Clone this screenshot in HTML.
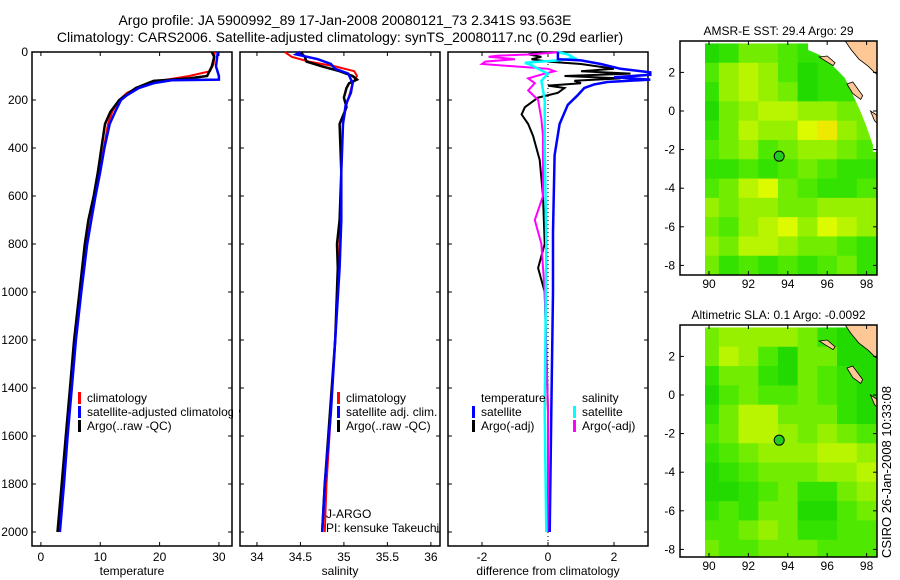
<!DOCTYPE html>
<html><head><meta charset="utf-8"><style>
body{margin:0;background:#fff;}
svg{display:block;font-family:"Liberation Sans",sans-serif;}
</style></head><body>
<svg id="c" width="900" height="580" xmlns="http://www.w3.org/2000/svg">
<text x="345" y="25" font-size="14" text-anchor="middle">Argo profile: JA 5900992_89 17-Jan-2008 20080121_73 2.341S 93.563E</text>
<text x="340" y="42" font-size="14" text-anchor="middle">Climatology: CARS2006. Satellite-adjusted climatology: synTS_20080117.nc (0.29d earlier)</text>
<text x="891" y="472" font-size="13" text-anchor="middle" transform="rotate(-90 891 472)">CSIRO 26-Jan-2008 10:33:08</text>
</svg>
<script>
// ---------- data ----------
const depthTicks=[0,200,400,600,800,1000,1200,1400,1600,1800,2000];
const tempTicks=[0,10,20,30];
const salTicks=[34,34.5,35,35.5,36];
const diffTicks=[-2,0,2];
const tempClimDepth=[0,50,80,100,120,140,170,200,250,300,400,500,600,700,800,1000,1200,1400,1600,1800,2000];
const tempClimVal=[29.3,29.1,28.5,25,20,17,14.5,13.2,12,11.3,10.6,9.9,9.1,8.4,7.7,6.7,5.8,5.1,4.4,3.8,3.1];
const tempSatDepth=[0,60,100,115,118,130,150,180,200,250,300,400,500,600,700,800,1000,1200,1400,1600,1800,2000];
const tempSatVal=[29.8,29.5,30,30,22,19,16.5,14.5,13.5,12.5,11.6,10.7,10,9.2,8.5,7.8,6.8,5.9,5.2,4.5,3.9,3.2];
const tempArgoDepth=[0,20,60,100,110,120,150,180,200,250,300,400,500,600,700,800,1000,1200,1400,1600,1800,2000];
const tempArgoVal=[28.8,29.2,28.8,28,25,19,16,14.3,13.2,11.7,10.8,10.2,9.6,8.9,8.0,7.4,6.5,5.6,4.9,4.2,3.5,2.8];
const salClimDepth=[0,20,40,60,80,100,130,170,220,300,500,700,900,1200,1500,1800,2000];
const salClimVal=[34.32,34.4,34.6,34.9,35.12,35.15,35.1,35.07,35.03,34.99,34.97,34.96,34.94,34.9,34.85,34.8,34.78];
const salSatDepth=[0,10,30,50,70,90,130,170,220,300,500,700,900,1200,1500,1800,2000];
const salSatVal=[34.5,34.45,34.7,34.85,34.9,35.05,35.1,35.08,35.02,34.99,34.97,34.97,34.95,34.9,34.85,34.78,34.75];
const salArgoDepth=[0,20,40,60,80,100,115,130,150,190,230,300,500,700,800,900,1200,1500,1800,2000];
const salArgoVal=[34.5,34.55,34.57,34.75,34.95,35.1,35.15,35.06,35.03,35.0,35.03,34.95,34.97,34.95,34.92,34.93,34.9,34.84,34.78,34.75];
const dTempSatDepth=[0,20,30,35,50,70,85,95,105,115,125,135,150,180,220,300,430,750,1000,1500,2000];
const dTempSatVal=[0.3,0.3,0.3,1.0,1.6,2.2,3.1,3.1,2,3.1,1.8,1.4,1.1,0.9,0.6,0.35,0.2,0.15,0.15,0.1,0.05];
const dTempArgoDepth=[0,10,20,30,40,50,60,70,80,90,100,110,120,130,140,150,170,190,230,260,300,350,450,600,800,900,1000,1500,2000];
const dTempArgoVal=[-0.2,-0.6,-0.2,-0.5,0,1.0,1.5,2.0,1.0,2.5,0.5,2.2,0.8,1.0,0,0.5,0.3,-0.3,-0.7,-0.8,-0.6,-0.45,-0.25,-0.15,-0.1,-0.3,-0.1,0,0];
const dSalSatDepth=[0,10,25,35,45,55,70,90,120,200,400,800,1500,2000];
const dSalSatVal=[0.3,0.6,0.8,0.3,-0.7,-0.5,-0.3,0,-0.2,-0.1,-0.1,-0.05,-0.1,-0.05];
const dSalArgoDepth=[0,10,15,20,30,40,50,60,70,80,90,110,130,160,200,280,350,600,700,800,1000,1500,2000];
const dSalArgoVal=[0.4,-0.5,-1.5,-1.8,-1.0,-1.9,-2.0,-1.0,0.0,0.2,-0.1,-0.6,-0.4,-0.6,-0.3,-0.2,-0.15,-0.15,-0.4,-0.2,-0.1,0,0];
const mapLons=[90,91,92,93,94,95,96,97,98];
const mapLats=[3,2,1,0,-1,-2,-3,-4,-5,-6,-7,-8];
const lonTicks=[90,92,94,96,98];
const latTicks=[2,0,-2,-4,-6,-8];
const sstGrid=[
[0.2,0.3,0.5,0.5,0.4,0.3,0.3,0.3,0.3],
[0.4,0.6,0.7,0.6,0.4,0.2,0.3,0.3,0.3],
[0.3,0.6,0.7,0.6,0.5,0.2,0.3,0.3,0.3],
[0.2,0.5,0.6,0.7,0.7,0.6,0.6,0.5,0.5],
[0.3,0.5,0.7,0.6,0.6,0.8,0.9,0.6,0.5],
[0.4,0.5,0.6,0.4,0.5,0.6,0.6,0.5,0.4],
[0.3,0.3,0.4,0.3,0.4,0.5,0.4,0.3,0.3],
[0.4,0.5,0.7,0.8,0.5,0.4,0.3,0.3,0.4],
[0.6,0.5,0.6,0.6,0.5,0.5,0.6,0.6,0.6],
[0.5,0.4,0.6,0.7,0.8,0.6,0.8,0.7,0.6],
[0.6,0.5,0.7,0.7,0.6,0.5,0.5,0.4,0.3],
[0.5,0.3,0.4,0.3,0.4,0.3,0.4,0.5,0.3]];
const slaGrid=[
[0.5,0.6,0.6,0.6,0.6,0.5,0.3,0.2,0.2],
[0.5,0.7,0.6,0.4,0.2,0.5,0.5,0.2,0.2],
[0.3,0.5,0.5,0.3,0.2,0.5,0.4,0.3,0.2],
[0.2,0.4,0.5,0.4,0.4,0.5,0.4,0.3,0.2],
[0.3,0.5,0.7,0.7,0.5,0.5,0.5,0.3,0.2],
[0.4,0.5,0.7,0.7,0.6,0.5,0.6,0.5,0.4],
[0.3,0.4,0.5,0.6,0.6,0.6,0.7,0.7,0.6],
[0.2,0.3,0.4,0.5,0.5,0.5,0.6,0.6,0.7],
[0.2,0.2,0.3,0.4,0.5,0.3,0.3,0.5,0.6],
[0.3,0.4,0.3,0.5,0.5,0.2,0.2,0.4,0.5],
[0.4,0.4,0.5,0.6,0.5,0.3,0.3,0.4,0.4],
[0.5,0.4,0.4,0.5,0.5,0.5,0.4,0.4,0.4]];
const argoLon=93.563, argoLat=-2.341;

// ---------- helpers ----------
const svg=document.getElementById('c');
const NS='http://www.w3.org/2000/svg';
function mk(tag,attrs,parent){const e=document.createElementNS(NS,tag);for(const k in attrs)e.setAttribute(k,attrs[k]);(parent||svg).appendChild(e);return e;}
const Y0=52, PY=0.24, BOT=546;
const yD=d=>Y0+d*PY;

function panel(name,x0,x1,vmin,vmax,ticks,label,showY){
  const sx=v=>x0+(v-vmin)/(vmax-vmin)*(x1-x0);
  const g=mk('g',{});
  
  
  const fr=mk('rect',{x:x0,y:Y0,width:x1-x0,height:BOT-Y0,fill:'none',stroke:'#000','stroke-width':1.5},g);
  
  
  depthTicks.forEach(d=>{
    mk('line',{x1:x0,x2:x0+4,y1:yD(d),y2:yD(d),stroke:'#000'},g);
    mk('line',{x1:x1,x2:x1-4,y1:yD(d),y2:yD(d),stroke:'#000'},g);
    if(showY){const t=mk('text',{x:x0-4,y:yD(d)+4,'font-size':12,'text-anchor':'end'},g);t.textContent=d;
      
      }
  });
  ticks.forEach(v=>{
    mk('line',{x1:sx(v),x2:sx(v),y1:BOT,y2:BOT-4,stroke:'#000'},g);
    mk('line',{x1:sx(v),x2:sx(v),y1:Y0,y2:Y0+4,stroke:'#000'},g);
    const t=mk('text',{x:sx(v),y:BOT+15,'font-size':12,'text-anchor':'middle'},g);t.textContent=v;
    
    
  });
  const l=mk('text',{x:(x0+x1)/2,y:575,'font-size':12,'text-anchor':'middle'},g);l.textContent=label;
  
  
  return {sx,g,x0,x1};
}
function line(p,depths,vals,color,w,nm){
  const pts=depths.map((d,i)=>p.sx(vals[i]).toFixed(1)+','+yD(d).toFixed(1)).join(' ');
  const e=mk('polyline',{points:pts,fill:'none',stroke:color,'stroke-width':w,'stroke-linejoin':'miter'},p.g);
  
  
}
function legendRow(g,x,y,color,text,nm){
  if(color)mk('rect',{x:x,y:y-10,width:3,height:12,fill:color},g);
  const t=mk('text',{x:x+(color?9:0),y:y,'font-size':12},g);t.textContent=text;
  
  
}

// ---------- panel 1 ----------
const p1=panel('temperature',32,232,-1.5,32.2,tempTicks,'temperature',true);
line(p1,tempClimDepth,tempClimVal,'#f00',2,'temp-climatology-line');
line(p1,tempArgoDepth,tempArgoVal,'#000',2.5,'temp-argo-line');
line(p1,tempSatDepth,tempSatVal,'#00f',2.5,'temp-satellite-line');
legendRow(p1.g,78,402,'#f00','climatology','legend-climatology');
legendRow(p1.g,78,416,'#00f','satellite-adjusted climatology','legend-satellite');
legendRow(p1.g,78,430,'#000','Argo(..raw -QC)','legend-argo');
mk('rect',{x:233,y:390,width:6,height:50,fill:'#fff'});

// ---------- panel 2 ----------
const p2=panel('salinity',240,440,33.805,36.105,salTicks,'salinity',false);
line(p2,salClimDepth,salClimVal,'#f00',2,'sal-climatology-line');
line(p2,salArgoDepth,salArgoVal,'#000',2.5,'sal-argo-line');
line(p2,salSatDepth,salSatVal,'#00f',2.5,'sal-satellite-line');
legendRow(p2.g,337,402,'#f00','climatology','legend-sal-climatology');
legendRow(p2.g,337,416,'#00f','satellite adj. clim.','legend-sal-satellite');
legendRow(p2.g,337,430,'#000','Argo(..raw -QC)','legend-sal-argo');
legendRow(p2.g,326,518,null,'J-ARGO','pi-project-label');
legendRow(p2.g,326,532,null,'PI: kensuke Takeuchi','pi-name-label');

// ---------- panel 3 ----------
const p3=panel('difference',448,648,-3.03,3.03,diffTicks,'difference from climatology',false);
mk('line',{x1:p3.sx(0),x2:p3.sx(0),y1:Y0,y2:BOT,stroke:'#000','stroke-dasharray':'1,3'},p3.g);
line(p3,dTempArgoDepth,dTempArgoVal,'#000',2,'diff-temp-argo-line');
line(p3,dSalArgoDepth,dSalArgoVal,'#f0f',2,'diff-sal-argo-line');
line(p3,dSalSatDepth,dSalSatVal,'#0ff',2.5,'diff-sal-satellite-line');
line(p3,dTempSatDepth,dTempSatVal,'#00f',2.5,'diff-temp-satellite-line');
legendRow(p3.g,481,402,null,'temperature','legend-temperature-header');
legendRow(p3.g,472,416,'#00f','satellite','legend-diff-temp-satellite');
legendRow(p3.g,472,430,'#000','Argo(-adj)','legend-diff-temp-argo');
legendRow(p3.g,582,402,null,'salinity','legend-salinity-header');
legendRow(p3.g,573,416,'#0ff','satellite','legend-diff-sal-satellite');
legendRow(p3.g,573,430,'#f0f','Argo(-adj)','legend-diff-sal-argo');

// ---------- maps ----------
function col(v){
  const stops=[[0,[0,200,0]],[0.35,[60,230,0]],[0.6,[150,240,0]],[0.8,[220,250,0]],[1,[255,215,0]]];
  for(let i=1;i<stops.length;i++){if(v<=stops[i][0]){const a=stops[i-1],b=stops[i];const t=(v-a[0])/(b[0]-a[0]);
    return 'rgb('+a[1].map((c,j)=>Math.round(c+(b[1][j]-c)*t)).join(',')+')';}}
  return 'rgb(255,215,0)';
}
function map(name,top,bottom,lat0y,grid,title,mask){
  const x0=680,x1=877;
  const lx=l=>709+19.7*(l-90), ly=l=>lat0y-19.3*l;
  const g=mk('g',{});
  
  
  const cid='clip'+name;
  const cp=mk('clipPath',{id:cid},g);
  mk('rect',{x:lx(89.8),y:top,width:x1-lx(89.8),height:bottom-top},cp);
  const cg=mk('g',{'clip-path':'url(#'+cid+')'},g);
  grid.forEach((row,r)=>row.forEach((v,c)=>{
    const e=mk('rect',{x:lx(mapLons[c]-0.5),y:ly(mapLats[r]+0.5),width:19.7+0.5,height:19.3+0.5,fill:col(v)},cg);
    
    
  }));
  const P=pts=>pts.map(p=>lx(p[0]).toFixed(1)+','+ly(p[1]).toFixed(1)).join(' ');
  if(mask){const m=mk('polygon',{points:P([[95.03,3.8],[95.03,3.16],[95.63,2.9],[96.4,2.23],[96.9,1.71],[97.26,0.93],[97.66,0.05],[97.97,-0.73],[98.32,-1.76],[98.32,-2.12],[98.8,-2.12],[98.8,3.8]]),fill:'#fff'},cg);
    
    }
  const land=[[[96.8,3.8],[97.2,3.2],[97.6,2.7],[98.1,2.3],[98.4,2.0],[98.8,1.7],[98.8,3.8]],
    [[95.6,2.8],[96.0,2.85],[96.4,2.5],[96.3,2.35],[95.9,2.6]],
    [[97.0,1.4],[97.3,1.5],[97.8,0.8],[97.7,0.6],[97.3,0.9]],
    [[98.2,0.0],[98.5,-0.2],[98.6,-0.7],[98.4,-0.5]]];
  land.forEach(pl=>{const e=mk('polygon',{points:P(pl),fill:'#fdc896',stroke:'#000','stroke-width':0.8},cg);
    
    });
  const fr=mk('rect',{x:x0,y:top,width:x1-x0,height:bottom-top,fill:'none',stroke:'#000','stroke-width':1.5},g);
  
  
  latTicks.forEach(l=>{mk('line',{x1:x0,x2:x0+4,y1:ly(l),y2:ly(l),stroke:'#000'},g);mk('line',{x1:x1,x2:x1-4,y1:ly(l),y2:ly(l),stroke:'#000'},g);
    const t=mk('text',{x:x0-5,y:ly(l)+4,'font-size':12,'text-anchor':'end'},g);t.textContent=l;
    
    });
  lonTicks.forEach(l=>{mk('line',{x1:lx(l),x2:lx(l),y1:bottom,y2:bottom-4,stroke:'#000'},g);mk('line',{x1:lx(l),x2:lx(l),y1:top,y2:top+4,stroke:'#000'},g);
    const t=mk('text',{x:lx(l),y:bottom+13,'font-size':12,'text-anchor':'middle'},g);t.textContent=l;
    
    });
  const mkr=mk('circle',{cx:lx(argoLon),cy:ly(argoLat),r:5,fill:'#2c2',stroke:'#000','stroke-width':1},g);
  
  
  const t=mk('text',{x:(x0+x1)/2,y:top-6,'font-size':12,'text-anchor':'middle'},g);t.textContent=title;
  
  
}
map('sst-map',41,275,111,sstGrid,'AMSR-E SST: 29.4 Argo: 29',true);
map('sla-map',325,557,395,slaGrid,'Altimetric SLA: 0.1 Argo: -0.0092',false);
</script>
</body></html>
